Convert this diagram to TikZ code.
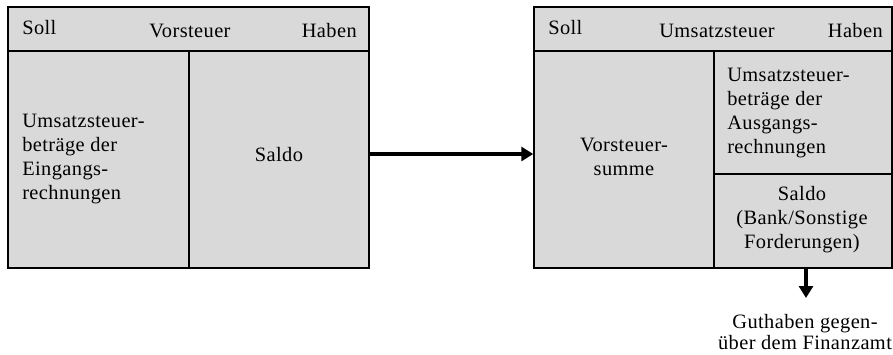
\documentclass[tikz,border=0pt]{standalone}
\usepackage{fontspec}
\setmainfont[LetterSpace=2]{Liberation Serif}
\usetikzlibrary{fit,arrows.meta}
\begin{document}
\begin{tikzpicture}[x=0.75pt,y=-0.75pt,
  font=\fontsize{15.3}{18}\selectfont,
  cell/.style={draw=black, line width=1.1pt, fill=black!15, inner sep=0pt, rectangle},
  txt/.style={inner sep=0pt},
  flow/.style={line width=2.6pt, -{Triangle[length=9pt,width=10.5pt]}}]
\useasboundingbox (0,0) rectangle (893,354);
% left account
\node[cell, fit={(8,7) (369,51)}] (vstHead) {};
\node[cell, fit={(8,51) (189,268)}] (vstL) {};
\node[cell, fit={(189,51) (369,268)}] (vstR) {};
\node[txt, anchor=base west] (vstSoll) at (22,34) {Soll};
\node[txt, anchor=base] (vstTitle) at (190,37) {Vorsteuer};
\node[txt, anchor=base east] (vstHaben) at (357,37) {Haben};
\node[txt, anchor=west, align=left] (vstLText) at (22,159) {Umsatzsteuer-\\beträge der\\Eingangs-\\rechnungen};
\node[txt] (vstRText) at (279,155) {Saldo};
% right account
\node[cell, fit={(534,7) (892,51)}] (ustHead) {};
\node[cell, fit={(534,51) (714,268)}] (ustL) {};
\node[cell, fit={(714,51) (892,174)}] (ustRT) {};
\node[cell, fit={(714,174) (892,268)}] (ustRB) {};
\node[txt, anchor=base west] (ustSoll) at (548,34) {Soll};
\node[txt, anchor=base] (ustTitle) at (717,37) {Umsatzsteuer};
\node[txt, anchor=base east] (ustHaben) at (883,37) {Haben};
\node[txt, align=center] (ustLText) at (624,157) {Vorsteuer-\\summe};
\node[txt, anchor=west, align=left] (ustRTText) at (727,113) {Umsatzsteuer-\\beträge der\\Ausgangs-\\rechnungen};
\node[txt, align=center] (ustRBText) at (802,220) {Saldo\\(Bank/Sonstige\\Forderungen)};
% result
\node[txt, align=center, font=\fontsize{15.3}{16}\selectfont] (guth) at (805,332) {Guthaben gegen-\\über dem Finanzamt};
\coordinate (guthTop) at (806,298);
% connectors
\draw[flow] (vstR.east |- 0,154) -- (ustL.west |- 0,154);
\draw[flow] (ustRB.south -| guthTop) -- (guthTop);
\end{tikzpicture}
\end{document}
